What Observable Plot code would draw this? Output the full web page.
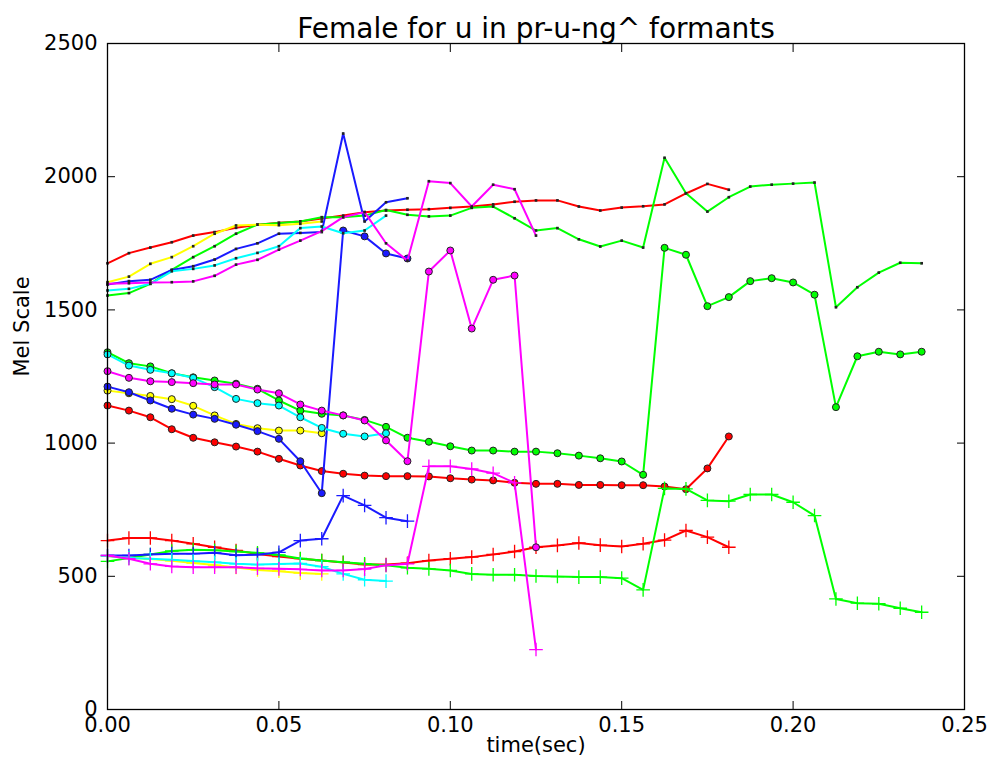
<!DOCTYPE html>
<html>
<head>
<meta charset="utf-8">
<script src="https://cdn.jsdelivr.net/npm/d3@7"></script>
<script src="https://cdn.jsdelivr.net/npm/@observablehq/plot@0.6"></script>
<style>
  html, body { margin: 0; padding: 0; background: #fff; }
  #chart svg { display: block; }
</style>
</head>
<body>
<div id="chart"></div>
<script>
// Frame times (sec), one analysis frame every 6.25 ms
const times = [0, 0.00625, 0.0125, 0.01875, 0.025, 0.03125, 0.0375, 0.04375, 0.05, 0.05625,
  0.0625, 0.06875, 0.075, 0.08125, 0.0875, 0.09375, 0.1, 0.10625, 0.1125, 0.11875,
  0.125, 0.13125, 0.1375, 0.14375, 0.15, 0.15625, 0.1625, 0.16875, 0.175, 0.18125,
  0.1875, 0.19375, 0.2, 0.20625, 0.2125, 0.21875, 0.225, 0.23125, 0.2375];

// Formant tracks in mel, one token per colour
const redF1 = [634, 644, 644, 634, 622, 609, 597, 584, 574, 566, 559, 552, 544, 544, 549, 559, 566, 572, 582, 593, 609, 616, 625, 617, 612, 622, 636, 672, 647, 609];
const redF2 = [1141, 1122, 1097, 1052, 1020, 1003, 987, 968, 941, 916, 895, 885, 878, 876, 876, 875, 868, 863, 860, 851, 847, 847, 843, 843, 842, 842, 837, 827, 905, 1025];
const redF3 = [1675, 1713, 1734, 1754, 1779, 1792, 1808, 1820, 1827, 1832, 1843, 1854, 1867, 1873, 1876, 1878, 1883, 1888, 1896, 1906, 1911, 1911, 1888, 1873, 1884, 1889, 1896, 1937, 1973, 1951];

const greenF1 = [556, 569, 582, 595, 600, 598, 593, 588, 580, 567, 559, 553, 547, 541, 532, 528, 522, 509, 506, 506, 501, 499, 497, 497, 493, 449, 830, 828, 785, 782, 807, 807, 778, 728, 415, 399, 397, 380, 365];
const greenF2 = [1341, 1300, 1288, 1262, 1247, 1235, 1223, 1204, 1160, 1122, 1110, 1104, 1087, 1061, 1020, 1005, 988, 972, 972, 968, 968, 962, 953, 943, 931, 881, 1733, 1707, 1514, 1548, 1608, 1619, 1603, 1557, 1135, 1326, 1343, 1333, 1343];
const greenF3 = [1554, 1563, 1598, 1650, 1698, 1739, 1786, 1820, 1826, 1832, 1848, 1848, 1854, 1875, 1857, 1851, 1854, 1883, 1888, 1844, 1798, 1807, 1765, 1738, 1760, 1734, 2071, 1938, 1869, 1923, 1963, 1970, 1974, 1978, 1510, 1585, 1640, 1677, 1675];

const yellowF1 = [575, 570, 565, 558, 550, 542, 533, 524, 519, 512, 509];
const yellowF2 = [1197, 1187, 1177, 1165, 1140, 1104, 1072, 1056, 1047, 1047, 1037];
const yellowF3 = [1604, 1625, 1673, 1698, 1739, 1786, 1817, 1820, 1818, 1823, 1832];

const blueF1 = [578, 578, 582, 585, 585, 588, 579, 581, 590, 634, 641, 803, 766, 720, 707];
const blueF2 = [1212, 1191, 1160, 1129, 1107, 1091, 1069, 1045, 1016, 932, 812, 1798, 1776, 1712, 1693];
const blueF3 = [1595, 1608, 1613, 1650, 1664, 1689, 1729, 1750, 1786, 1789, 1792, 2162, 1832, 1904, 1919];

const cyanF1 = [576, 569, 566, 562, 557, 553, 547, 544, 546, 548, 536, 509, 487, 482];
const cyanF2 = [1333, 1291, 1275, 1262, 1245, 1210, 1166, 1150, 1141, 1097, 1057, 1035, 1025, 1037];
const cyanF3 = [1573, 1579, 1598, 1645, 1654, 1667, 1694, 1714, 1739, 1807, 1813, 1788, 1798, 1854];

const magentaF1 = [578, 566, 547, 537, 534, 534, 534, 530, 528, 526, 522, 522, 527, 541, 547, 913, 913, 903, 887, 851, 225];
const magentaF2 = [1270, 1245, 1232, 1229, 1225, 1220, 1220, 1201, 1187, 1145, 1122, 1104, 1085, 1010, 932, 1644, 1723, 1430, 1613, 1629, 609];
const magentaF3 = [1598, 1600, 1603, 1604, 1607, 1628, 1670, 1688, 1726, 1760, 1796, 1848, 1867, 1750, 1685, 1983, 1976, 1888, 1970, 1953, 1779];

const xTicks = [0, 0.05, 0.1, 0.15, 0.2, 0.25];
const yTicks = [0, 500, 1000, 1500, 2000, 2500];

const tokens = [
  {color: "#ff0000", f1: redF1, f2: redF2, f3: redF3},
  {color: "#00ff00", f1: greenF1, f2: greenF2, f3: greenF3},
  {color: "#ffff00", f1: yellowF1, f2: yellowF2, f3: yellowF3},
  {color: "#1a1aff", f1: blueF1, f2: blueF2, f3: blueF3},
  {color: "#00ffff", f1: cyanF1, f2: cyanF2, f3: cyanF3},
  {color: "#ff00ff", f1: magentaF1, f2: magentaF2, f3: magentaF3}
];

// Thin "+" marker, like a plotting library's plus glyph
const plusGlyph = {
  draw(ctx, size) {
    const r = Math.sqrt(size / Math.PI);
    ctx.moveTo(-r, 0); ctx.lineTo(r, 0);
    ctx.moveTo(0, -r); ctx.lineTo(0, r);
  }
};

const font = "DejaVu Sans";
const marks = [];

for (const tk of tokens) {
  const rows = (vals) => vals.map((v, i) => ({t: times[i], v}));
  const r1 = rows(tk.f1), r2 = rows(tk.f2), r3 = rows(tk.f3);
  // F1: line with plus markers
  marks.push(Plot.line(r1, {x: "t", y: "v", stroke: tk.color, strokeWidth: 2}));
  marks.push(Plot.dot(r1, {x: "t", y: "v", symbol: plusGlyph, r: 6.8, stroke: tk.color, fill: "none", strokeWidth: 1.3}));
  // F2: line with round markers
  marks.push(Plot.line(r2, {x: "t", y: "v", stroke: tk.color, strokeWidth: 2}));
  marks.push(Plot.dot(r2, {x: "t", y: "v", r: 3.5, fill: tk.color, stroke: "#222", strokeWidth: 1}));
  // F3: line with small point markers
  marks.push(Plot.line(r3, {x: "t", y: "v", stroke: tk.color, strokeWidth: 2}));
  marks.push(Plot.dot(r3, {x: "t", y: "v", symbol: "square", r: 1.5, fill: "#222", stroke: "none"}));
}

const chart = Plot.plot({
  width: 992,
  height: 766,
  marginLeft: 107,
  marginRight: 28,
  marginTop: 43,
  marginBottom: 57,
  style: {fontFamily: font, fontSize: "21px", color: "#000", background: "#fff"},
  x: {domain: [0, 0.25]},
  y: {domain: [0, 2500]},
  marks: [
    ...marks,
    Plot.frame({stroke: "#000", strokeWidth: 1.3}),
    Plot.axisX(xTicks, {anchor: "bottom", tickSize: -8, tickPadding: 16, tickFormat: d3.format(".2f"), label: null, fontSize: 21}),
    Plot.axisX(xTicks, {anchor: "top", tickSize: -8, tickFormat: () => "", label: null}),
    Plot.axisY(yTicks, {anchor: "left", tickSize: -8, tickPadding: 18, tickFormat: d3.format("d"), label: null, fontSize: 21}),
    Plot.axisY(yTicks, {anchor: "right", tickSize: -8, tickFormat: () => "", label: null}),
    Plot.text(["Female for u in pr-u-ng^ formants"], {frameAnchor: "top", dy: -25, fontSize: 28, fill: "#000"}),
    Plot.text(["time(sec)"], {frameAnchor: "bottom", dy: 42, fontSize: 21, fill: "#000"}),
    Plot.text(["Mel Scale"], {frameAnchor: "left", dx: -85, rotate: -90, fontSize: 21, fill: "#000"})
  ]
});

document.getElementById("chart").appendChild(chart);
</script>
</body>
</html>
